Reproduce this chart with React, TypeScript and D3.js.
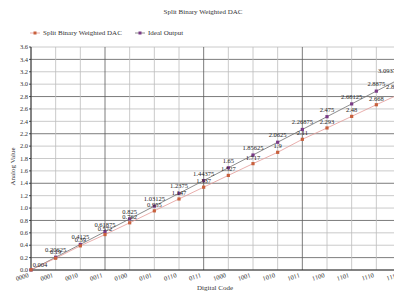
import React, { useEffect, useRef } from 'react';
import * as d3 from 'd3';

// digital input codes
const codes = ['0000', '0001', '0010', '0011', '0100', '0101', '0110', '0111',
  '1000', '1001', '1010', '1011', '1100', '1101', '1110', '1111'];
// measured output of the split binary weighted DAC
const dacValues = [0.004, 0.19, 0.39, 0.572, 0.762, 0.955, 1.147, 1.337,
  1.527, 1.717, 1.9, 2.11, 2.293, 2.48, 2.668, 2.85];
// ideal output
const idealValues = [0, 0.20625, 0.4125, 0.61875, 0.825, 1.03125, 1.2375, 1.44375,
  1.65, 1.85625, 2.0625, 2.26875, 2.475, 2.68125, 2.8875, 3.09375];
const yTicks = d3.range(0, 3.61, 0.2);
const darkY = [0.2, 0.8, 1.4, 2.2, 2.8, 3.4];

const W = 394, H = 293;
const FONT = '"Liberation Serif", "DejaVu Serif", serif';

const App = () => {
  const ref = useRef<SVGSVGElement>(null);

  useEffect(() => {
    const svg = d3.select(ref.current);
    svg.selectAll('*').remove();

    const left = 31, top = 47, bottom = 270, right = 401;
    const x = d3.scalePoint<string>().domain(codes).range([left, right]);
    const y = d3.scaleLinear().domain([0, 3.6]).range([bottom, top]);
    const last = codes.length - 1;

    const g = svg.append('g').attr('font-family', FONT);

    // grid
    g.selectAll('line.hg').data(yTicks).enter().append('line')
      .attr('x1', left).attr('x2', right)
      .attr('y1', d => y(d)).attr('y2', d => y(d))
      .attr('stroke', d => darkY.some(v => Math.abs(v - d) < 1e-6) ? '#5a5a5a' : '#bdbdbd')
      .attr('stroke-width', 0.8);
    g.selectAll('line.vg').data(codes).enter().append('line')
      .attr('x1', d => x(d)!).attr('x2', d => x(d)!)
      .attr('y1', top).attr('y2', bottom)
      .attr('stroke', (d, i) => i % 4 === 3 ? '#5a5a5a' : '#bdbdbd')
      .attr('stroke-width', 0.8);

    // axes
    g.append('line').attr('x1', left).attr('x2', left).attr('y1', top).attr('y2', bottom)
      .attr('stroke', '#222').attr('stroke-width', 1);
    g.append('line').attr('x1', left).attr('x2', right).attr('y1', bottom).attr('y2', bottom)
      .attr('stroke', '#222').attr('stroke-width', 1);

    g.selectAll('text.yt').data(yTicks).enter().append('text')
      .attr('x', left - 3).attr('y', d => y(d) + 2.2)
      .attr('text-anchor', 'end').attr('font-size', 6.5).attr('fill', '#333')
      .text(d => d.toFixed(1));
    g.selectAll('line.ytk').data(yTicks).enter().append('line')
      .attr('x1', left - 2).attr('x2', left).attr('y1', d => y(d)).attr('y2', d => y(d))
      .attr('stroke', '#222').attr('stroke-width', 0.8);

    g.selectAll('text.xt').data(codes).enter().append('text')
      .attr('transform', d => `translate(${x(d)! - 2},${bottom + 7}) rotate(-18)`)
      .attr('text-anchor', 'end').attr('font-size', 6.5).attr('fill', '#333')
      .text(d => d);

    // lines
    const line = d3.line<number>().x((d, i) => x(codes[i])!).y(d => y(d));
    g.append('path').datum(idealValues).attr('d', line)
      .attr('fill', 'none').attr('stroke', '#6e6e6e').attr('stroke-width', 0.8);
    g.append('path').datum(dacValues).attr('d', line)
      .attr('fill', 'none').attr('stroke', '#e39a98').attr('stroke-width', 0.8);

    // markers
    g.selectAll('rect.mi').data(idealValues).enter().append('rect')
      .attr('x', (d, i) => x(codes[i])! - 1.6).attr('y', d => y(d) - 1.6)
      .attr('width', 3.2).attr('height', 3.2).attr('fill', '#7a3a86');
    g.selectAll('rect.md').data(dacValues).enter().append('rect')
      .attr('x', (d, i) => x(codes[i])! - 1.6).attr('y', d => y(d) - 1.6)
      .attr('width', 3.2).attr('height', 3.2).attr('fill', '#c8603c');

    // value labels (the last ones are pulled inside the plot)
    g.selectAll('text.li').data(idealValues).enter().append('text')
      .attr('x', (d, i) => i === last ? 378 : x(codes[i])!)
      .attr('y', d => y(d) - 5)
      .attr('text-anchor', (d, i) => i === last ? 'start' : 'middle')
      .attr('font-size', 6.5).attr('fill', '#222')
      .text((d, i) => i === 0 ? '' : String(d));
    g.selectAll('text.ld').data(dacValues).enter().append('text')
      .attr('x', (d, i) => i === 0 ? x(codes[i])! + 9 : i === last ? 386 : x(codes[i])!)
      .attr('y', (d, i) => y(d) - (i === 0 ? 3 : 4))
      .attr('text-anchor', (d, i) => i === last ? 'start' : 'middle')
      .attr('font-size', 6.5).attr('fill', '#222')
      .text(d => String(d));

    // titles
    const t = svg.append('g').attr('font-family', FONT).attr('fill', '#333').attr('font-size', 7);
    t.append('text').attr('x', 203).attr('y', 14).attr('text-anchor', 'middle')
      .text('Split Binary Weighted DAC');
    t.append('text').attr('x', 215).attr('y', 290).attr('text-anchor', 'middle')
      .text('Digital Code');
    t.append('text').attr('transform', `translate(15,${(top + bottom) / 2 + 8}) rotate(-90)`)
      .attr('text-anchor', 'middle').text('Analog Value');

    // legend
    const legend = [
      { name: 'Split Binary Weighted DAC', line: '#e39a98', mark: '#c8603c', x: 30 },
      { name: 'Ideal Output', line: '#6e6e6e', mark: '#7a3a86', x: 135 },
    ];
    const lg = t.selectAll('g.lg').data(legend).enter().append('g')
      .attr('transform', d => `translate(${d.x},33)`);
    lg.append('line').attr('x1', 0).attr('x2', 10).attr('stroke', d => d.line).attr('stroke-width', 0.8);
    lg.append('rect').attr('x', 3.5).attr('y', -1.5).attr('width', 3).attr('height', 3).attr('fill', d => d.mark);
    lg.append('text').attr('x', 13).attr('y', 2.3).text(d => d.name);
  }, []);

  return (
    <svg ref={ref} width={W} height={H}
      style={{ position: 'fixed', left: 0, top: 0, background: '#fff' }} />
  );
};

export default App;
